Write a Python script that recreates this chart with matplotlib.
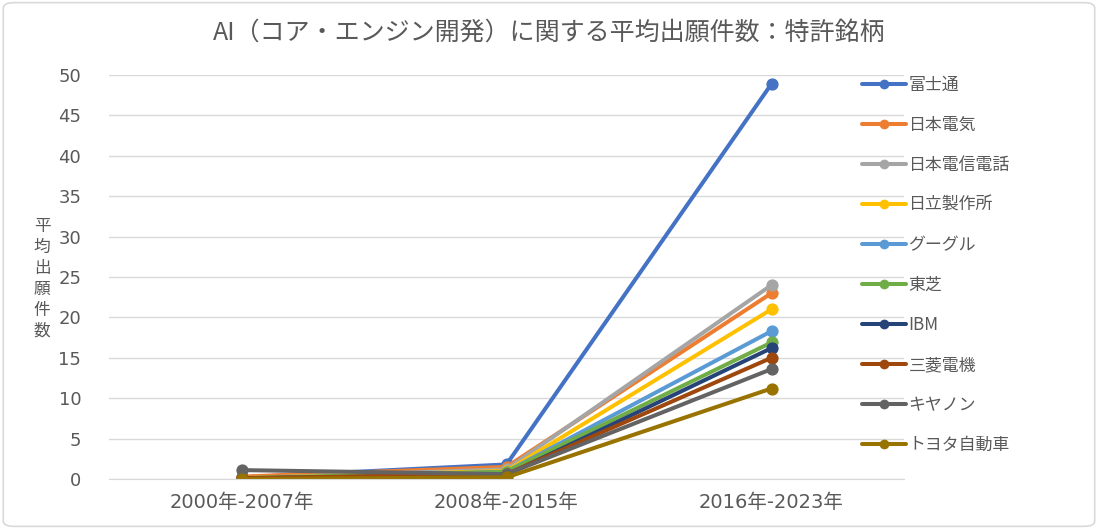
import matplotlib
matplotlib.use('Agg')
import matplotlib.pyplot as plt
from matplotlib.patches import FancyBboxPatch

plt.rcParams['font.family'] = ['Noto Sans CJK JP', 'DejaVu Sans']

# data
periods = ['2000年-2007年', '2008年-2015年', '2016年-2023年']
companies = ['富士通', '日本電気', '日本電信電話', '日立製作所', 'グーグル',
             '東芝', 'IBM', '三菱電機', 'キヤノン', 'トヨタ自動車']
fujitsu = [0.2, 1.8, 48.9]
nec = [0.3, 1.5, 23.0]
ntt = [0.1, 1.2, 24.0]
hitachi = [0.1, 1.0, 21.0]
google = [0.0, 0.9, 18.3]
toshiba = [0.1, 0.9, 16.9]
ibm = [0.1, 0.5, 16.2]
mitsubishi = [0.1, 0.6, 15.0]
canon = [1.1, 0.6, 13.6]
toyota = [0.0, 0.2, 11.2]
series = [fujitsu, nec, ntt, hitachi, google, toshiba, ibm, mitsubishi, canon, toyota]
colors = ['#4472C4', '#ED7D31', '#A5A5A5', '#FFC000', '#5B9BD5',
          '#70AD47', '#264478', '#9E480E', '#636363', '#997300']

txt = '#595959'
tick_font = ['DejaVu Sans', 'Noto Sans CJK JP']
fig = plt.figure(figsize=(10.98, 5.29), dpi=100)
ax = fig.add_axes([109 / 1098, 50 / 529, 795 / 1098, 404 / 529])

x = list(range(len(periods)))
for name, vals, c in zip(companies, series, colors):
    ax.plot(x, vals, color=c, lw=2.9, marker='o', markersize=7.8,
            solid_capstyle='round', label=name)

ax.set_xlim(-0.5, 2.5)
ax.set_ylim(0, 50)
ax.set_yticks(range(0, 51, 5))
ax.set_xticks(x)
ax.set_xticklabels(periods)
ax.grid(axis='y', color='#D9D9D9', lw=1)
ax.set_axisbelow(True)
for s in ['top', 'right', 'left']:
    ax.spines[s].set_visible(False)
ax.spines['bottom'].set_color('#D9D9D9')
ax.tick_params(length=0, colors=txt)
ax.tick_params(axis='y', pad=20)
ax.tick_params(axis='x', pad=10)
for lab in ax.get_xticklabels():
    lab.set_fontfamily(tick_font)
    lab.set_fontsize(14)
for lab in ax.get_yticklabels():
    lab.set_fontfamily(tick_font)
    lab.set_fontsize(13)

fig.text(0.5, 1 - 33 / 529, 'AI（コア・エンジン開発）に関する平均出願件数：特許銘柄',
         color=txt, fontsize=18, ha='center', va='center')
fig.text(42 / 1098, 1 - 279 / 529, '\n'.join('平均出願件数'), color=txt,
         fontsize=12, ha='center', va='center', linespacing=1.3)

leg = ax.legend(loc='upper left', bbox_to_anchor=(855 / 1098, 1 - 69 / 529),
                bbox_transform=fig.transFigure, frameon=False, fontsize=12.2,
                labelspacing=1.3, handlelength=2.6, handletextpad=0.15,
                borderaxespad=0)
for t in leg.get_texts():
    t.set_color(txt)
for h in leg.legend_handles:
    h.set_markersize(6)

fig.patches.append(FancyBboxPatch((0.003, 0.005), 0.994, 0.99,
                                  boxstyle='round,pad=0,rounding_size=0.01',
                                  transform=fig.transFigure, fill=False,
                                  ec='#D9D9D9', lw=1.2))

fig.savefig('out.png', dpi=100)
